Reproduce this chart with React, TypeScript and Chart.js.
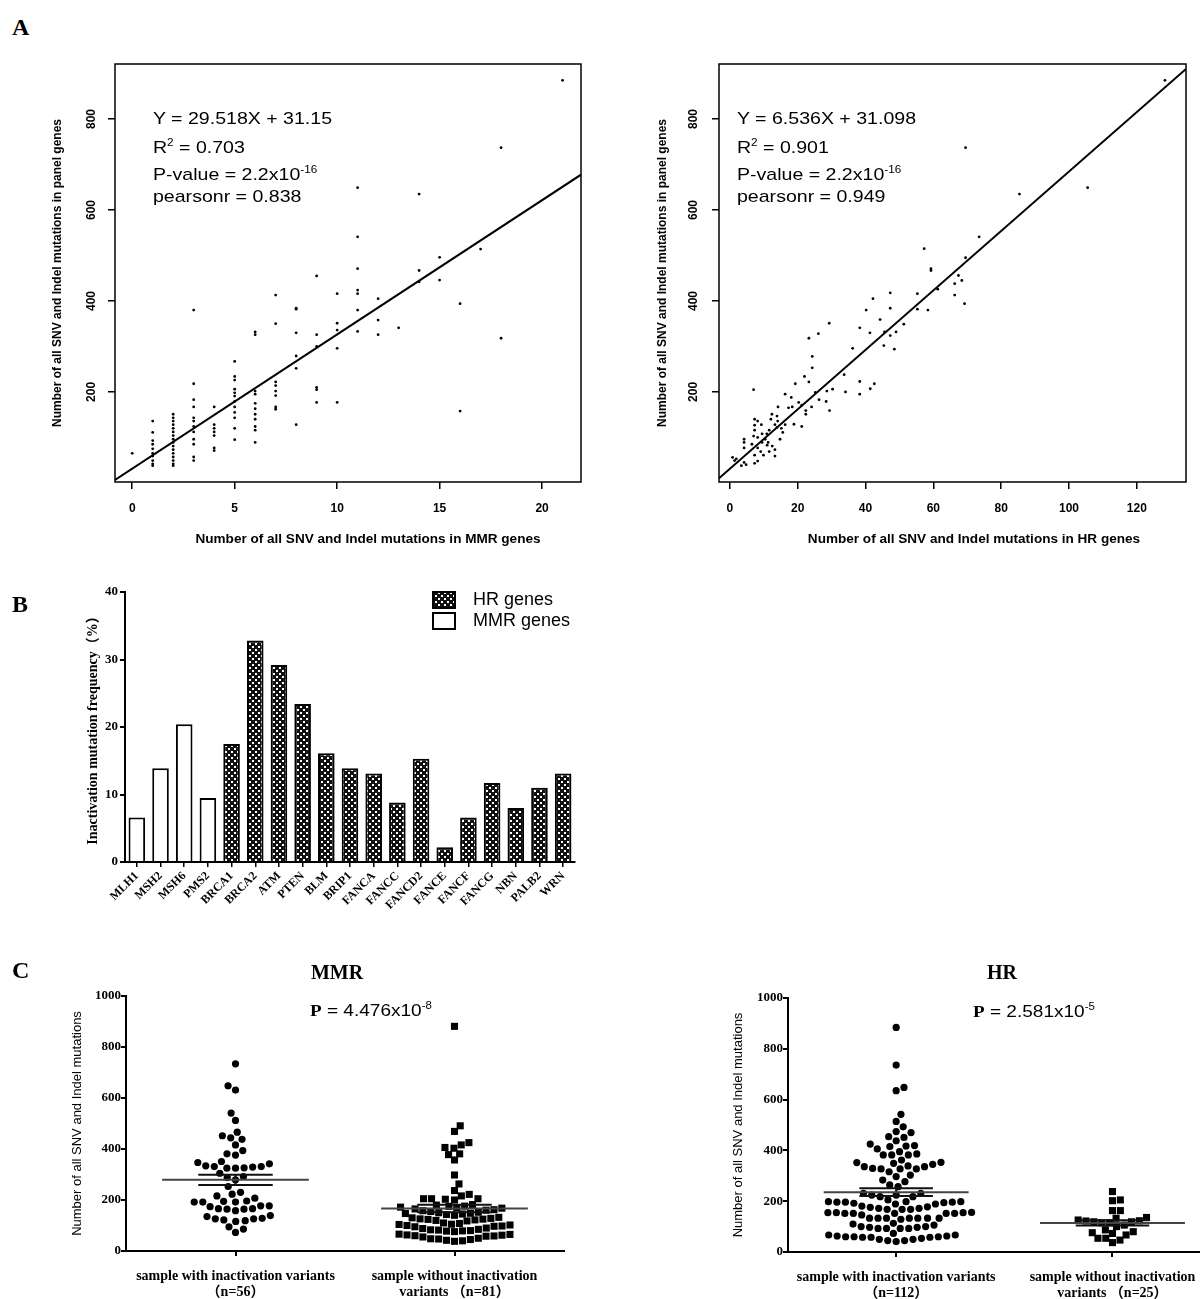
import React, { useEffect, useRef } from 'react';
import { Chart, registerables } from 'chart.js';
Chart.register(...registerables);
Chart.defaults.color = '#000';

const SANS = "'Liberation Sans', Arial, Helvetica, sans-serif";
const SERIF = "'Liberation Serif', 'Times New Roman', 'Noto Sans CJK SC', serif";

// ---------------- Panel A (left): panel-gene mutations grouped by MMR-gene mutation count ----------------
const mmrCounts = [0, 1, 2, 3, 4, 5, 6, 7, 8, 9, 10, 11, 12, 13, 14, 15, 16, 17, 18, 21];
const panelByMmrCount = [
  [65],
  [136, 111, 93, 85, 75, 65, 59, 49, 42, 38],
  [151, 143, 136, 128, 120, 112, 104, 96, 89, 81, 73, 65, 57, 49, 42, 38],
  [380, 218, 183, 167, 143, 136, 124, 112, 96, 85, 57, 49],
  [167, 128, 120, 112, 104, 77, 71],
  [267, 234, 226, 206, 198, 191, 179, 167, 155, 143, 120, 95],
  [332, 326, 202, 195, 175, 163, 151, 140, 124, 116, 89],
  [413, 350, 222, 214, 202, 192, 167, 162],
  [384, 382, 330, 279, 252, 128],
  [455, 326, 300, 210, 205, 177],
  [416, 351, 336, 296, 177],
  [649, 541, 471, 424, 416, 380, 333],
  [405, 358, 326],
  [341],
  [635, 467, 442],
  [496, 446],
  [394, 158],
  [514],
  [737, 318],
  [885],
];
const mmrFit = { slope: 29.518, intercept: 31.15, r2: '0.703', p: '2.2x10', pExp: '-16', pearson: '0.838' };
const aLeftXTicks = [0, 5, 10, 15, 20];

// ---------------- Panel A (right): HR-gene mutations vs panel-gene mutations ----------------
const hrCountX = [128.3, 69.5, 85.4, 105.5, 73.5, 57.3, 69.5, 59.3, 59.3, 67.4,
  68.4, 66.3, 61.3, 47.3, 55.3, 42.2, 66.3, 69.2, 40.2, 47.3,
  55.3, 58.4, 44.3, 29.3, 51.3, 38.3, 41.3, 45.6, 49.0, 26.1,
  47.3, 45.4, 48.5, 23.3, 24.3, 36.2, 24.3, 22.0, 23.3, 33.7,
  38.3, 42.6, 19.3, 41.4, 7.0, 16.3, 34.1, 38.3, 28.6, 30.3,
  25.2, 28.4, 26.3, 20.3, 21.2, 29.4, 24.1, 14.2, 17.3, 18.4,
  22.4, 22.4, 16.3, 18.9, 21.2, 13.3, 13.9, 15.2, 15.6, 11.6,
  12.1, 7.3, 8.2, 7.3, 7.3, 9.3, 9.5, 8.2, 7.0, 10.4,
  11.3, 9.5, 4.2, 4.2, 4.2, 6.5, 8.2, 7.3, 9.1, 12.5,
  13.3, 11.6, 9.9, 13.3, 0.8, 1.9, 1.4, 4.2, 4.8, 3.4,
  7.3, 8.2, 10.9, 14.8, 11.0, 14.1, 13.9, 18.1, 12.4];
const hrPanelY = [885, 737, 635, 649, 541, 515, 495, 471, 467, 456,
  445, 438, 426, 418, 416, 405, 413, 394, 380, 384,
  382, 380, 359, 351, 349, 341, 330, 332, 332, 328,
  324, 302, 294, 318, 278, 296, 253, 234, 222, 238,
  223, 218, 218, 207, 205, 195, 200, 195, 202, 206,
  199, 179, 183, 177, 171, 159, 167, 167, 165, 167,
  159, 151, 128, 129, 124, 128, 122, 120, 111, 116,
  140, 140, 136, 127, 116, 128, 108, 100, 103, 96,
  89, 89, 96, 89, 77, 85, 77, 61, 69, 81,
  73, 69, 61, 59, 56, 53, 49, 45, 40, 38,
  43, 48, 108, 96, 83, 136, 147, 188, 151];
const hrFit = { slope: 6.536, intercept: 31.098, r2: '0.901', p: '2.2x10', pExp: '-16', pearson: '0.949' };
const aRightXTicks = [0, 20, 40, 60, 80, 100, 120];
const aYTicks = [200, 400, 600, 800];

// ---------------- Panel B ----------------
const genes = ['MLH1', 'MSH2', 'MSH6', 'PMS2', 'BRCA1', 'BRCA2', 'ATM', 'PTEN', 'BLM', 'BRIP1', 'FANCA', 'FANCC', 'FANCD2', 'FANCE', 'FANCF', 'FANCG', 'NBN', 'PALB2', 'WRN'];
const geneGroup = ['MMR', 'MMR', 'MMR', 'MMR', 'HR', 'HR', 'HR', 'HR', 'HR', 'HR', 'HR', 'HR', 'HR', 'HR', 'HR', 'HR', 'HR', 'HR', 'HR'];
const inactivationFreq = [6.6, 13.9, 20.4, 9.5, 17.5, 32.8, 29.2, 23.4, 16.1, 13.9, 13.1, 8.8, 15.3, 2.2, 6.6, 11.7, 8.0, 11.0, 13.1];
const bYTicks = [0, 10, 20, 30, 40];

// ---------------- Panel C ----------------
const mmrWith = [734, 631, 648, 541, 512, 452, 438, 444, 466, 416, 381, 376, 394,
  331, 326, 325, 347, 334, 342, 351, 329, 325, 331, 292, 288, 305, 253, 279,
  230, 216, 207, 223, 196, 192, 192, 192, 195, 177, 166, 166, 158, 164, 164, 174, 177,
  139, 128, 126, 119, 116, 122, 126, 135, 95, 73, 86];
const mmrWithout = [881, 491, 469, 425, 406, 403, 416, 381, 357, 378, 298, 263, 222, 205, 205, 205, 216, 237, 203, 200,
  176, 182, 175, 180, 170, 165, 160, 162, 168, 158, 172,
  150, 145, 148, 152, 140, 155, 143, 147, 128, 122, 125, 120, 130, 118, 126, 124, 132,
  105, 100, 98, 102, 108, 95, 110, 104, 97, 85, 80, 78, 83, 88, 76, 90, 82, 79,
  62, 58, 65, 60, 66, 55, 63, 59, 45, 42, 48, 40, 50, 38, 47];
const hrWith = [884, 736, 635, 648, 542, 514, 493, 470, 474, 451, 454, 438, 425, 419, 415, 406, 417, 395,
  382, 382, 382, 386, 362, 353, 345, 339, 352, 349, 336, 327, 327, 316, 327, 329, 336, 303, 297, 283,
  264, 277, 257, 224, 218, 231, 218, 224, 231,
  198, 196, 189, 189, 178, 194, 205, 198, 192, 181, 196, 196, 198,
  172, 168, 168, 168, 172, 176,
  155, 152, 146, 152, 152, 155, 152, 155, 152, 156,
  133, 133, 133, 133, 129, 133, 133, 133,
  110, 100, 97, 93, 93, 93, 93, 97, 100, 106, 113,
  67, 63, 63, 60, 58, 58, 58, 60, 60, 67, 73,
  50, 45, 41, 45, 50, 54];
const hrWithout = [238, 205, 202, 163, 163, 136, 133, 126, 123, 122, 119, 119, 115, 115, 106, 100, 87, 80, 76, 73, 67, 54, 54, 47, 37];
const cYTicks = [0, 200, 400, 600, 800, 1000];
const mmrGroupLabels = [['sample with inactivation variants', '（n=56）'], ['sample without inactivation', 'variants （n=81）']];
const hrGroupLabels = [['sample with inactivation variants', '（n=112）'], ['sample without inactivation', 'variants （n=25）']];
const mmrP = { base: '4.476x10', exp: '-8' };
const hrP = { base: '2.581x10', exp: '-5' };

// ---------------- helpers ----------------
type Pt = { x: number; y: number };

function beeswarm(values: number[], center: number, pxPerX: number, pxPerY: number, diam: number): Pt[] {
  const idx = values.map((_, i) => i).sort((a, b) => values[a] - values[b]);
  const placed: { px: number; py: number }[] = [];
  const out: Pt[] = new Array(values.length);
  let flip = 1;
  for (const i of idx) {
    const py = values[i] * pxPerY;
    const blocks: [number, number][] = [];
    for (const p of placed) {
      const dy = Math.abs(p.py - py);
      if (dy < diam) {
        const dx = Math.sqrt(diam * diam - dy * dy);
        blocks.push([p.px - dx, p.px + dx]);
      }
    }
    const cands = [0];
    blocks.forEach(([a, b]) => cands.push(a, b));
    cands.sort((a, b) => Math.abs(a) - Math.abs(b) || flip * (a - b));
    let best = 0;
    for (const c of cands) {
      if (blocks.every(([a, b]) => c <= a + 1e-6 || c >= b - 1e-6)) { best = c; break; }
    }
    flip = -flip;
    placed.push({ px: best, py });
    out[i] = { x: center + best / pxPerX, y: values[i] };
  }
  return out;
}

function meanSem(v: number[]) {
  const n = v.length;
  const m = v.reduce((s, x) => s + x, 0) / n;
  const sd = Math.sqrt(v.reduce((s, x) => s + (x - m) * (x - m), 0) / (n - 1));
  return [m, sd / Math.sqrt(n)];
}

function errorBars(center: number, values: number[]) {
  const [m, se] = meanSem(values);
  const segs = [
    { pts: [{ x: center - 0.335, y: m }, { x: center + 0.335, y: m }], c: '#444' },
    { pts: [{ x: center - 0.17, y: m + se }, { x: center + 0.17, y: m + se }], c: '#111' },
    { pts: [{ x: center - 0.17, y: m - se }, { x: center + 0.17, y: m - se }], c: '#111' },
    { pts: [{ x: center, y: m - se }, { x: center, y: m + se }], c: '#111' },
  ];
  return segs.map((s) => ({ type: 'line', data: s.pts, borderColor: s.c, borderWidth: 2, pointRadius: 0 }));
}

const boxPlugin = {
  id: 'box',
  afterDatasetsDraw(chart: any) {
    const { ctx, chartArea: a } = chart;
    ctx.save();
    ctx.strokeStyle = '#000';
    ctx.lineWidth = 1.5;
    ctx.strokeRect(a.left, a.top, a.right - a.left, a.bottom - a.top);
    ctx.restore();
  },
};

const legendPlugin = {
  id: 'boxLegend',
  afterDraw(chart: any) {
    const { ctx } = chart;
    ctx.save();
    chart.data.datasets.forEach((ds: any, i: number) => {
      const y = 12 + i * 21;
      ctx.fillStyle = ds.backgroundColor;
      ctx.fillRect(433, y, 22, 16);
      ctx.strokeStyle = '#000';
      ctx.lineWidth = 2;
      ctx.strokeRect(433, y, 22, 16);
      ctx.fillStyle = '#000';
      ctx.font = `18px ${SANS}`;
      ctx.textBaseline = 'middle';
      ctx.fillText(ds.label, 473, y + 8);
    });
    ctx.restore();
  },
};

function fixBox(w?: number, h?: number) {
  return (s: any) => {
    if (w !== undefined) s.width = w;
    if (h !== undefined) s.height = h;
    s.paddingLeft = 0; s.paddingRight = 0; s.paddingTop = 0; s.paddingBottom = 0;
  };
}

const plainNum = (v: number) => String(v);

function makeScatterA(c: any) {
  return () => {
    const pts = c.xs.map((x: number, i: number) => ({ x, y: c.ys[i] }));
    const [x0, x1] = c.xRange;
    return {
      type: 'scatter',
      data: {
        datasets: [
          { type: 'line', data: [x0, x1].map((x: number) => ({ x, y: c.fit.slope * x + c.fit.intercept })), borderColor: '#000', borderWidth: 2, pointRadius: 0 },
          { type: 'scatter', data: pts, pointRadius: 1.4, backgroundColor: '#000', pointBorderWidth: 0, borderWidth: 0 },
        ],
      },
      options: {
        animation: false, responsive: false, devicePixelRatio: 1,
        layout: { padding: { left: 0, top: c.padTop, right: c.padRight, bottom: 0 } },
        plugins: { legend: { display: false }, tooltip: { enabled: false } },
        scales: {
          x: {
            type: 'linear', min: x0, max: x1,
            afterBuildTicks: (s: any) => { s.ticks = c.xTicks.map((v: number) => ({ value: v })); },
            afterFit: fixBox(undefined, c.xAxisH),
            border: { display: false },
            grid: { drawOnChartArea: false, drawTicks: true, tickLength: 7, color: '#000', lineWidth: 1.5 },
            ticks: { color: '#000', font: { family: SANS, size: 12, weight: 'bold' }, padding: 12, maxRotation: 0, autoSkip: false, callback: plainNum },
          },
          y: {
            type: 'linear', min: c.yRange[0], max: c.yRange[1],
            afterBuildTicks: (s: any) => { s.ticks = aYTicks.map((v) => ({ value: v })); },
            afterFit: fixBox(c.yAxisW, undefined),
            border: { display: false },
            grid: { drawOnChartArea: false, drawTicks: true, tickLength: 7, color: '#000', lineWidth: 1.5 },
            ticks: { color: '#000', font: { family: SANS, size: 12, weight: 'bold' }, minRotation: 90, maxRotation: 90, crossAlign: 'center', padding: c.yLabelPad, autoSkip: false, callback: plainNum },
            title: { display: true, text: 'Number of all SNV and Indel mutations in panel genes', color: '#000', font: { family: SANS, size: 12, weight: 'bold' }, padding: { top: c.yTitlePad, bottom: 0 } },
          },
        },
      },
      plugins: [boxPlugin],
    };
  };
}

function makeBars() {
  const tile = document.createElement('canvas');
  tile.width = 6; tile.height = 6;
  const tctx = tile.getContext('2d') as CanvasRenderingContext2D;
  tctx.fillStyle = '#111';
  tctx.fillRect(0, 0, 6, 6);
  tctx.fillStyle = '#fff';
  tctx.fillRect(0, 0, 2, 2);
  tctx.fillRect(3, 3, 2, 2);
  const pattern = tctx.createPattern(tile, 'repeat');
  return {
    type: 'bar',
    data: {
      labels: genes,
      datasets: [
        { label: 'HR genes', data: inactivationFreq.map((v, i) => (geneGroup[i] === 'HR' ? v : null)), backgroundColor: pattern, borderColor: '#000', borderWidth: 2, grouped: false, barPercentage: 0.7, categoryPercentage: 1 },
        { label: 'MMR genes', data: inactivationFreq.map((v, i) => (geneGroup[i] === 'MMR' ? v : null)), backgroundColor: '#fff', borderColor: '#000', borderWidth: 2, grouped: false, barPercentage: 0.7, categoryPercentage: 1 },
      ],
    },
    options: {
      animation: false, responsive: false, devicePixelRatio: 1,
      layout: { padding: { left: 0, top: 12, right: 25, bottom: 0 } },
      plugins: { legend: { display: false }, tooltip: { enabled: false } },
      scales: {
        x: {
          type: 'category', offset: true,
          afterFit: fixBox(undefined, 68),
          border: { display: true, color: '#000', width: 2 },
          grid: { offset: false, drawOnChartArea: false, drawTicks: true, tickLength: 5, color: '#000', lineWidth: 1.5 },
          ticks: { color: '#000', font: { family: SERIF, size: 12, weight: 'bold' }, minRotation: 45, maxRotation: 45, padding: 2, autoSkip: false },
        },
        y: {
          min: 0, max: 40,
          afterBuildTicks: (s: any) => { s.ticks = bYTicks.map((v) => ({ value: v })); },
          afterFit: fixBox(125, undefined),
          border: { display: true, color: '#000', width: 2 },
          grid: { drawOnChartArea: false, drawTicks: true, tickLength: 5, color: '#000', lineWidth: 2 },
          ticks: { color: '#000', font: { family: SERIF, size: 13, weight: 'bold' }, padding: 2, callback: plainNum },
          title: { display: true, text: 'Inactivation mutation frequency（%）', color: '#000', font: { family: SERIF, size: 14, weight: 'bold' }, padding: { top: 85, bottom: 0 } },
        },
      },
    },
    plugins: [legendPlugin],
  };
}

function makeSwarm(c: any) {
  return () => {
    const pxX = c.pxPerX, pxY = c.pxPerY;
    return {
      type: 'scatter',
      data: {
        datasets: [
          ...errorBars(1, c.withVals),
          ...errorBars(2, c.withoutVals),
          { type: 'scatter', data: beeswarm(c.withVals, 1, pxX, pxY, 8.6), pointStyle: 'circle', pointRadius: 3.6, backgroundColor: '#000', pointBorderWidth: 0, borderWidth: 0 },
          { type: 'scatter', data: beeswarm(c.withoutVals, 2, pxX, pxY, 8), pointStyle: 'rect', pointRadius: 5, backgroundColor: '#000', pointBorderWidth: 0, borderWidth: 0 },
        ],
      },
      options: {
        animation: false, responsive: false, devicePixelRatio: 1,
        layout: { padding: { left: 0, top: c.padTop, right: c.padRight, bottom: 0 } },
        plugins: { legend: { display: false }, tooltip: { enabled: false } },
        scales: {
          x: {
            type: 'linear', min: 0.5, max: c.xMax,
            afterBuildTicks: (s: any) => { s.ticks = [1, 2].map((v) => ({ value: v })); },
            afterFit: fixBox(undefined, c.xAxisH),
            border: { display: true, color: '#000', width: 2 },
            grid: { drawOnChartArea: false, drawTicks: true, tickLength: 5, color: '#000', lineWidth: 2 },
            ticks: { color: '#000', font: { family: SERIF, size: 14, weight: 'bold', lineHeight: 1.1 }, padding: 13, maxRotation: 0, autoSkip: false, callback: (v: number) => c.labels[Math.round(v) - 1] },
          },
          y: {
            type: 'linear', min: 0, max: 1000,
            afterBuildTicks: (s: any) => { s.ticks = cYTicks.map((v) => ({ value: v })); },
            afterFit: fixBox(c.yAxisW, undefined),
            border: { display: true, color: '#000', width: 2 },
            grid: { drawOnChartArea: false, drawTicks: true, tickLength: 5, color: '#000', lineWidth: 2 },
            ticks: { color: '#000', font: { family: SERIF, size: 13, weight: 'bold' }, padding: 0, callback: plainNum },
            title: { display: true, text: 'Number of all SNV and Indel mutations', color: '#000', font: { family: SANS, size: 13 }, padding: { top: c.yTitlePad, bottom: 0 } },
          },
        },
      },
    };
  };
}

function ChartCanvas({ x, y, w, h, make }: { x: number; y: number; w: number; h: number; make: () => any }) {
  const ref = useRef<HTMLCanvasElement>(null);
  useEffect(() => {
    const chart = new Chart(ref.current as HTMLCanvasElement, make());
    return () => chart.destroy();
  }, []);
  return <canvas ref={ref} width={w} height={h} style={{ position: 'absolute', left: x, top: y, width: w, height: h }} />;
}

function Txt({ x, y, children, style }: { x: number; y: number; children: any; style?: any }) {
  return (
    <div style={{ position: 'absolute', left: x, top: y, whiteSpace: 'nowrap', lineHeight: 1, color: '#000', ...style }}>{children}</div>
  );
}

const sup = (t: string) => <span style={{ fontSize: '0.6em', verticalAlign: '0.65em' }}>{t}</span>;

function FitText({ x, fit, eq }: { x: number; fit: any; eq: string }) {
  const st = { fontFamily: SANS, fontSize: 17, transform: 'scaleX(1.15)', transformOrigin: 'left center' };
  return (
    <>
      <Txt x={x} y={110} style={st}>{eq}</Txt>
      <Txt x={x} y={138} style={st}>R{sup('2')} = {fit.r2}</Txt>
      <Txt x={x} y={165} style={st}>P-value = {fit.p}{sup(fit.pExp)}</Txt>
      <Txt x={x} y={188} style={st}>pearsonr = {fit.pearson}</Txt>
    </>
  );
}

export default function App() {
  const mmrXs: number[] = [];
  const mmrYs: number[] = [];
  panelByMmrCount.forEach((col, i) => col.forEach((v) => { mmrXs.push(mmrCounts[i]); mmrYs.push(v); }));

  const letter = { fontFamily: SERIF, fontWeight: 'bold', fontSize: 24 };
  const xTitle = { fontFamily: SANS, fontWeight: 'bold', fontSize: 12, transform: 'translate(-50%, -50%) scaleX(1.13)' };
  const pStyle = { fontFamily: SANS, fontSize: 17, transform: 'scaleX(1.12)', transformOrigin: 'left center' };
  const cTitle = { fontFamily: SERIF, fontWeight: 'bold', fontSize: 20, transform: 'translate(-50%, -50%)' };

  return (
    <div style={{ position: 'absolute', left: 0, top: 0, width: 1204, height: 1299, overflow: 'hidden', background: '#fff' }}>
      <ChartCanvas x={0} y={40} w={600} h={530} make={makeScatterA({
        xs: mmrXs, ys: mmrYs, fit: mmrFit, xRange: [-0.84, 21.9], yRange: [2, 921], xTicks: aLeftXTicks,
        padTop: 24, padRight: 19, xAxisH: 88, yAxisW: 115, yLabelPad: 6, yTitlePad: 50,
      })} />
      <ChartCanvas x={600} y={40} w={604} h={530} make={makeScatterA({
        xs: hrCountX, ys: hrPanelY, fit: hrFit, xRange: [-3.2, 134.5], yRange: [2, 921], xTicks: aRightXTicks,
        padTop: 24, padRight: 18, xAxisH: 88, yAxisW: 119, yLabelPad: 8, yTitlePad: 55,
      })} />
      <ChartCanvas x={0} y={580} w={600} h={350} make={makeBars} />
      <ChartCanvas x={0} y={980} w={600} h={319} make={makeSwarm({
        withVals: mmrWith, withoutVals: mmrWithout, labels: mmrGroupLabels, pxPerX: 219, pxPerY: 0.255,
        xMax: 2.5, padTop: 16, padRight: 36, xAxisH: 48, yAxisW: 126, yTitlePad: 70,
      })} />
      <ChartCanvas x={600} y={980} w={604} h={319} make={makeSwarm({
        withVals: hrWith, withoutVals: hrWithout, labels: hrGroupLabels, pxPerX: 219, pxPerY: 0.254,
        xMax: 2.4, padTop: 18, padRight: 0, xAxisH: 47, yAxisW: 188, yTitlePad: 131,
      })} />

      <Txt x={12} y={15} style={letter}>A</Txt>
      <Txt x={12} y={592} style={letter}>B</Txt>
      <Txt x={12} y={958} style={letter}>C</Txt>

      <FitText x={153} fit={mmrFit} eq={`Y = ${mmrFit.slope}X + ${mmrFit.intercept}`} />
      <FitText x={737} fit={hrFit} eq={`Y = ${hrFit.slope}X + ${hrFit.intercept}`} />
      <Txt x={368} y={539} style={xTitle}>Number of all SNV and Indel mutations in MMR genes</Txt>
      <Txt x={974} y={539} style={xTitle}>Number of all SNV and Indel mutations in HR genes</Txt>

      <Txt x={337} y={972} style={cTitle}>MMR</Txt>
      <Txt x={1002} y={972} style={cTitle}>HR</Txt>
      <Txt x={310} y={1001} style={pStyle}><span style={{ fontFamily: SERIF, fontWeight: 'bold' }}>P</span> = {mmrP.base}{sup(mmrP.exp)}</Txt>
      <Txt x={973} y={1002} style={pStyle}><span style={{ fontFamily: SERIF, fontWeight: 'bold' }}>P</span> = {hrP.base}{sup(hrP.exp)}</Txt>
    </div>
  );
}
